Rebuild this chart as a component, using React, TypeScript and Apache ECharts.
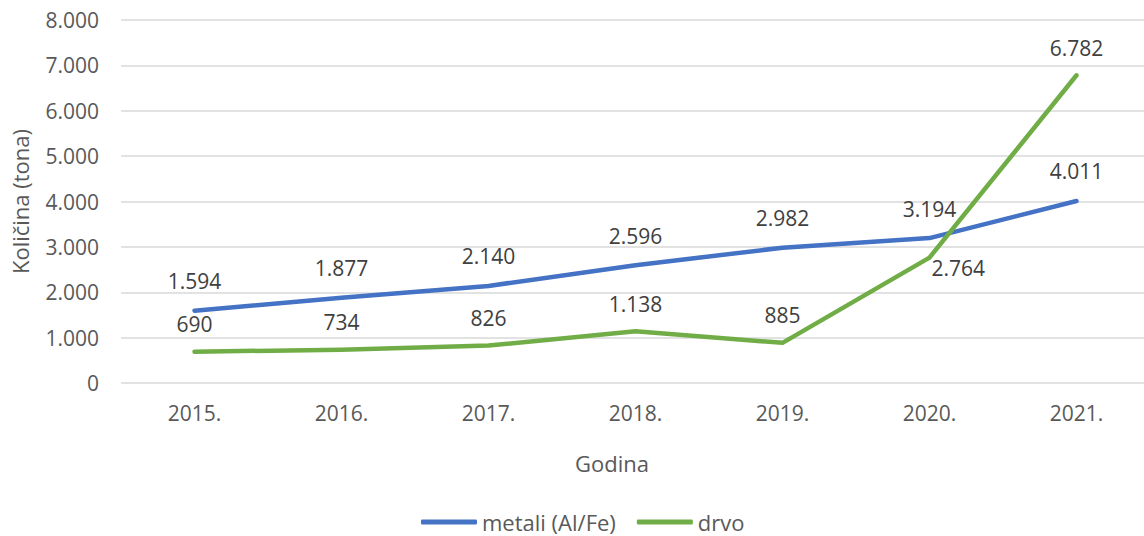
import React, { useEffect, useRef } from "react";
import * as echarts from "echarts";

const years = ["2015.", "2016.", "2017.", "2018.", "2019.", "2020.", "2021."];
const metali = [1594, 1877, 2140, 2596, 2982, 3194, 4011];
const drvo = [690, 734, 826, 1138, 885, 2764, 6782];
const yTicks = [0, 1000, 2000, 3000, 4000, 5000, 6000, 7000, 8000];

const FONT = "'Open Sans', 'Noto Sans', sans-serif";
const FS = 21;
const fmt = (v: number) => String(v).replace(/\B(?=(\d{3})+(?!\d))/g, ".");

export default function App() {
  const ref = useRef<HTMLDivElement>(null);
  useEffect(() => {
    const chart = echarts.init(ref.current!, undefined, { renderer: "svg" });
    chart.setOption({
      animation: false,
      textStyle: { fontFamily: FONT },
      grid: { left: 121, right: -6, top: 20, bottom: 153, containLabel: false, outerBoundsMode: "none" },
      xAxis: {
        type: "category",
        data: years,
        boundaryGap: true,
        axisLine: { show: false },
        axisTick: { show: false },
        axisLabel: { color: "#595959", fontSize: FS, fontFamily: FONT, margin: 19 },
      },
      yAxis: {
        type: "value",
        min: yTicks[0],
        max: yTicks[yTicks.length - 1],
        interval: 1000,
        axisLabel: { color: "#595959", fontSize: FS, fontFamily: FONT, margin: 22, formatter: (v: number) => fmt(v) },
        splitLine: { lineStyle: { color: "#D9D9D9", width: 1.5 } },
        axisLine: { show: false },
        axisTick: { show: false },
        name: "Količina (tona)",
        nameLocation: "middle",
        nameRotate: 90,
        nameGap: 90,
        nameTextStyle: { color: "#595959", fontSize: 22, fontFamily: FONT },
      },
      legend: {
        bottom: -2,
        left: 416,
        itemWidth: 56,
        itemHeight: 5,
        itemGap: 21,
        icon: "roundRect",
        textStyle: { color: "#595959", fontSize: 22, fontFamily: FONT, padding: [0, 0, 0, 0] },
        data: ["metali (Al/Fe)", "drvo"],
      },
      graphic: [
        {
          type: "text",
          x: 612,
          y: 463,
          style: { text: "Godina", fill: "#595959", fontSize: 22, fontFamily: FONT, align: "center", verticalAlign: "middle" },
        },
      ],
      series: [
        {
          name: "metali (Al/Fe)",
          type: "line",
          data: metali,
          symbol: "circle",
          symbolSize: 0.1,
          showSymbol: true,
          lineStyle: { color: "#4472C4", width: 4.5, cap: "round", join: "round" },
          itemStyle: { color: "#4472C4" },
          label: {
            show: true,
            position: "top",
            distance: 19,
            color: "#404040",
            fontSize: FS,
            fontFamily: FONT,
            formatter: (p: any) => fmt(p.value),
          },
        },
        {
          name: "drvo",
          type: "line",
          data: drvo.map((v, i) =>
            i === 5
              ? { value: v, label: { position: "right", distance: 2, offset: [0, 10] } }
              : v
          ),
          symbol: "circle",
          symbolSize: 0.1,
          showSymbol: true,
          lineStyle: { color: "#70AD47", width: 4.5, cap: "round", join: "round" },
          itemStyle: { color: "#70AD47" },
          label: {
            show: true,
            position: "top",
            distance: 17,
            color: "#404040",
            fontSize: FS,
            fontFamily: FONT,
            formatter: (p: any) => fmt(p.value),
          },
        },
      ],
    });
    return () => chart.dispose();
  }, []);
  return (
    <div
      ref={ref}
      style={{ position: "fixed", left: 0, top: 0, width: 1144, height: 536, background: "#fff" }}
    />
  );
}
